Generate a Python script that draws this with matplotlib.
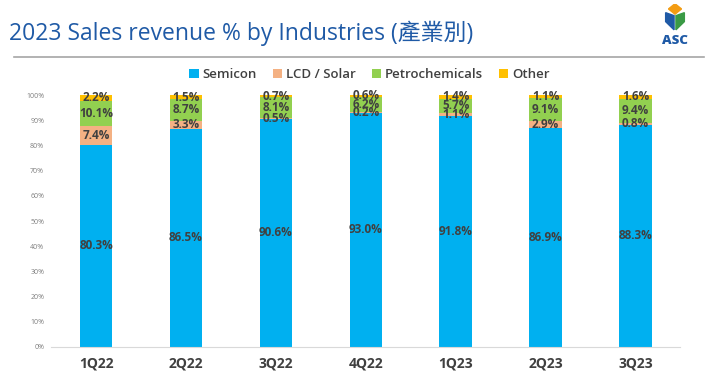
import matplotlib
matplotlib.use("Agg")
import matplotlib.pyplot as plt
from matplotlib.patches import Polygon
import numpy as np

plt.rcParams['font.family'] = ['Open Sans', 'Noto Sans CJK TC', 'DejaVu Sans']

quarters = ["1Q22", "2Q22", "3Q22", "4Q22", "1Q23", "2Q23", "3Q23"]
semicon = [80.3, 86.5, 90.6, 93.0, 91.8, 86.9, 88.3]
lcd_solar = [7.4, 3.3, 0.5, 0.2, 1.1, 2.9, 0.8]
petro = [10.1, 8.7, 8.1, 6.2, 5.7, 9.1, 9.4]
other = [2.2, 1.5, 0.7, 0.6, 1.4, 1.1, 1.6]
series_names = ["Semicon", "LCD / Solar", "Petrochemicals", "Other"]
colors = ["#00B0F0", "#F4B183", "#92D050", "#FFC000"]
yticks = [0, 10, 20, 30, 40, 50, 60, 70, 80, 90, 100]

fig = plt.figure(figsize=(7.2, 3.73), dpi=100)
fig.patch.set_facecolor("white")

# Title and header line
fig.text(0.012, 0.91, "2023 Sales revenue % by Industries (產業別)", fontsize=16.5,
         color="#1F5AA6", va="center", ha="left")
fig.add_artist(plt.Line2D([0.02, 0.978], [0.847, 0.847], color="#A6A6A6", lw=1.2,
                          transform=fig.transFigure))

# Logo
lax = fig.add_axes([0.905, 0.87, 0.065, 0.12])
lax.set_xlim(0, 10)
lax.set_ylim(0, 12)
lax.axis("off")
lax.add_patch(Polygon([[5, 12], [6.4, 10.6], [5, 9.2], [3.6, 10.6]], color="#F39C12"))
lax.add_patch(Polygon([[3.0, 9.6], [4.8, 8.8], [4.8, 5.0], [3.0, 7.2]], color="#1F5AA6"))
lax.add_patch(Polygon([[7.0, 9.6], [5.2, 8.8], [5.2, 5.0], [7.0, 7.2]], color="#3A9A45"))
lax.text(5, 2.0, "ASC", ha="center", va="center", fontsize=9.5, fontweight="heavy",
         color="#1F5AA6")

ax = fig.add_axes([0.071, 0.07, 0.874, 0.675])
x = np.arange(len(quarters))
width = 0.36
data = [semicon, lcd_solar, petro, other]
bottom = np.zeros(len(quarters))
bars = []
for vals, name, c in zip(data, series_names, colors):
    vals = np.array(vals)
    b = ax.bar(x, vals, width, bottom=bottom, color=c, label=name, zorder=2)
    bars.append(b)
    for xi, v, bt in zip(x, vals, bottom):
        ax.text(xi, bt + v / 2, f"{v:.1f}%", ha="center", va="center",
                fontsize=8.5, fontweight="bold", color="#404040", zorder=3)
    bottom = bottom + vals

ax.set_xlim(-0.5, 6.5)
ax.set_ylim(0, 100)
ax.set_yticks(yticks)
ax.set_yticklabels([f"{t}%" for t in yticks], fontsize=5, color="#7F7F7F")
ax.set_xticks(x)
ax.set_xticklabels(quarters, fontsize=10, fontweight="bold", color="#404040")
ax.tick_params(axis="both", length=0)
ax.tick_params(axis="x", pad=7)
ax.tick_params(axis="y", pad=5)
for s in ["top", "right", "left"]:
    ax.spines[s].set_visible(False)
ax.spines["bottom"].set_color("#D9D9D9")
ax.set_facecolor("none")

leg = fig.legend(handles=bars, labels=series_names, loc="center",
                 bbox_to_anchor=(0.513, 0.8), ncol=4, frameon=False,
                 fontsize=9.5, handlelength=0.7, handleheight=0.7,
                 handletextpad=0.3, columnspacing=1.2)
for t in leg.get_texts():
    t.set_color("#404040")
    t.set_fontweight("semibold")

fig.savefig("out.png", dpi=100, facecolor="white")
